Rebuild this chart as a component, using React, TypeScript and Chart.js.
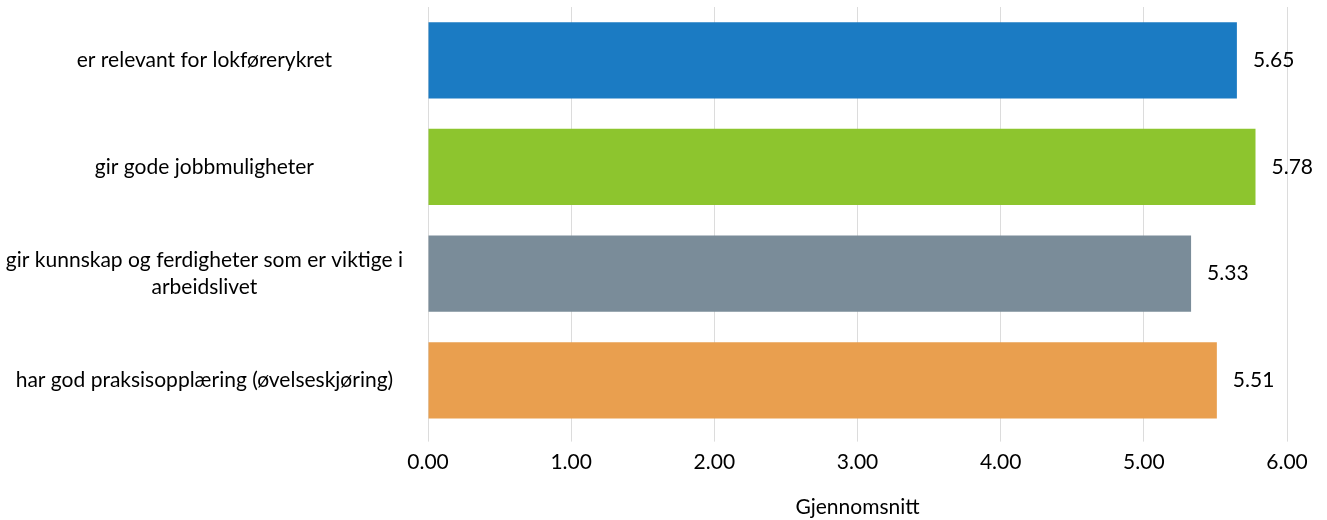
import React, { useEffect, useRef } from "react";
import { Chart, registerables } from "chart.js";

Chart.register(...registerables);

const categories: (string | string[])[] = [
  "er relevant for lokførerykret",
  "gir gode jobbmuligheter",
  ["gir kunnskap og ferdigheter som er viktige i", "arbeidslivet"],
  "har god praksisopplæring (øvelseskjøring)",
];
const values = [5.65, 5.78, 5.33, 5.51];
const barColors = ["#1b7bc3", "#8dc52e", "#7a8c99", "#e99f4f"];
const xTicks = [0, 1, 2, 3, 4, 5, 6];
const xTitle = "Gjennomsnitt";

const FONT = "Lato, 'Open Sans', sans-serif";

const valueLabels = {
  id: "valueLabels",
  afterDatasetsDraw(chart: any) {
    const ctx = chart.ctx;
    const meta = chart.getDatasetMeta(0);
    ctx.save();
    ctx.font = `21px ${FONT}`;
    ctx.fillStyle = "#000";
    ctx.textAlign = "left";
    ctx.textBaseline = "middle";
    meta.data.forEach((el: any, i: number) => {
      ctx.fillText(values[i].toFixed(2), el.x + 16, el.y);
    });
    ctx.restore();
  },
};

export default function App() {
  const ref = useRef<HTMLCanvasElement>(null);
  useEffect(() => {
    document.body.style.margin = "0";
    const chart = new Chart(ref.current!, {
      type: "bar",
      data: {
        labels: categories,
        datasets: [
          {
            data: values,
            backgroundColor: barColors,
            barPercentage: 0.715,
            categoryPercentage: 1,
          },
        ],
      },
      options: {
        indexAxis: "y",
        animation: false,
        responsive: false,
        maintainAspectRatio: false,
        layout: { padding: { top: 7, right: 40, bottom: 0, left: 0 } },
        plugins: { legend: { display: false }, tooltip: { enabled: false } },
        scales: {
          x: {
            min: 0,
            max: 6,
            afterBuildTicks(axis: any) {
              axis.ticks = xTicks.map((v) => ({ value: v }));
            },
            ticks: {
              callback: (v: any) => Number(v).toFixed(2),
              color: "#000",
              font: { family: FONT, size: 21 },
              padding: 8,
            },
            grid: { color: "#dcdcdc", tickLength: 8, lineWidth: 1 },
            border: { display: false },
            title: {
              display: true,
              text: xTitle,
              color: "#000",
              font: { family: FONT, size: 21 },
              padding: { top: 12, bottom: 0 },
            },
          },
          y: {
            grid: { display: false, drawTicks: false },
            border: { display: false },
            ticks: {
              crossAlign: "center",
              color: "#000",
              font: { family: FONT, size: 21, lineHeight: 1.3 },
              padding: 25,
            },
            afterFit(axis: any) {
              axis.width = 428;
              axis.paddingTop = 0;
              axis.paddingBottom = 0;
            },
          },
        },
      },
      plugins: [valueLabels],
    });
    return () => chart.destroy();
  }, []);
  return <canvas ref={ref} width={1327} height={520} style={{ display: "block" }} />;
}
